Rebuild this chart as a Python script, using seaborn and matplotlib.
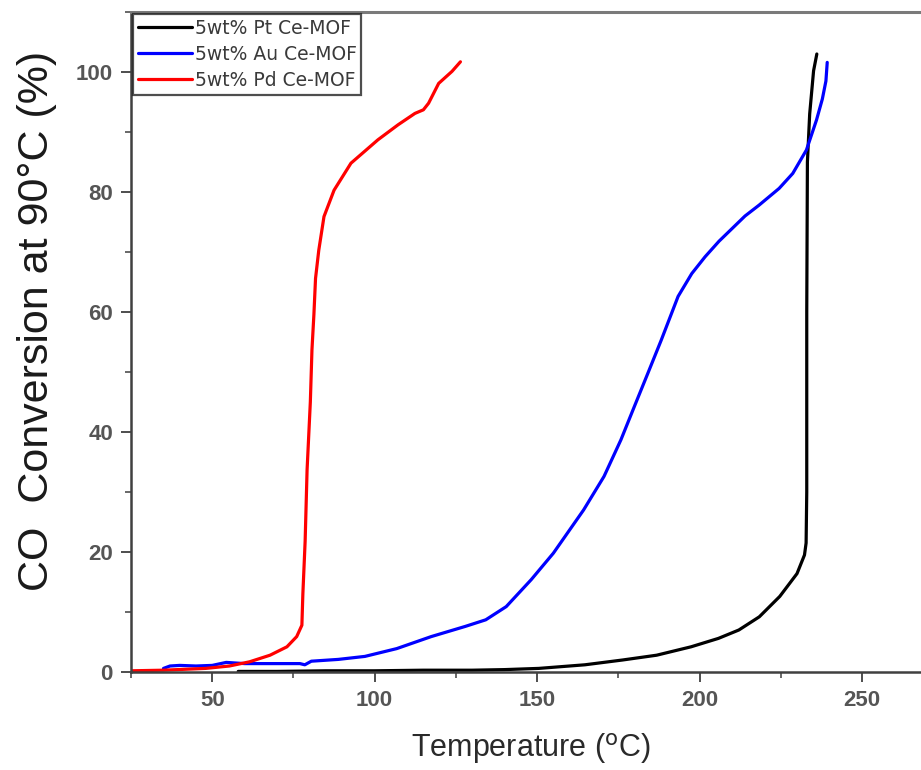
import matplotlib
matplotlib.use("Agg")
import matplotlib.pyplot as plt
from matplotlib.ticker import MultipleLocator
import seaborn as sns
import pandas as pd

# CO light-off curves (temperature in degC, conversion in %)
pt_temp = [58, 70, 85, 100, 115, 130, 140, 150.5, 164.7, 176.3, 186.8, 197.4, 205.8,
           212.1, 218.4, 224.7, 230.0, 232.3, 232.8, 233.0, 233.0, 233.2, 233.9, 234.4,
           235.1, 236.1]
pt_conv = [0.1, 0.1, 0.2, 0.2, 0.3, 0.3, 0.4, 0.6, 1.2, 2.0, 2.8, 4.2, 5.6,
           7.0, 9.2, 12.6, 16.4, 19.5, 21.5, 30.0, 60.0, 85.0, 93.0, 96.0,
           100.2, 103.0]

au_temp = [35, 37, 40, 45, 50, 54.3, 60, 70, 77, 78.5, 80.5, 88.8, 97, 106.8, 117.4, 127.9,
           134.2, 140.5, 148.2, 155, 164.3, 170.6, 175.8, 179.9, 184.1, 188.2, 193.4,
           197.6, 201.7, 206, 210, 214, 218.3, 224.5, 228.7, 232.9, 236, 237.8, 238.9, 239.3]
au_conv = [0.6, 1.0, 1.1, 1.0, 1.1, 1.6, 1.4, 1.4, 1.4, 1.2, 1.8, 2.1, 2.6, 3.9, 5.9, 7.6,
           8.7, 10.9, 15.4, 19.8, 27.0, 32.6, 38.7, 44.2, 49.8, 55.3, 62.6,
           66.4, 69.2, 71.8, 73.9, 76.0, 77.8, 80.6, 83.1, 87.0, 92.0, 95.5, 98.5, 101.6]

pd_temp = [25, 35, 48, 55.3, 61.5, 67.8, 73, 76, 77.6, 77.9, 78.6, 79.2, 80.2, 80.7, 81.3,
           81.8, 82.8, 84.4, 87.5, 92.7, 101, 107.2, 112.4, 115, 116.6, 119.7, 123.8, 126.4]
pd_conv = [0.2, 0.3, 0.6, 1.0, 1.7, 2.8, 4.2, 5.9, 7.8, 13.0, 21.8, 33.7, 45.0, 53.7, 59.6,
           65.6, 70.3, 75.9, 80.3, 84.8, 88.7, 91.2, 93.1, 93.7, 94.8, 98.1, 100.1, 101.7]

labels = ["5wt% Pt Ce-MOF", "5wt% Au Ce-MOF", "5wt% Pd Ce-MOF"]
colors = ["#000000", "#0000ff", "#ff0000"]

frames = []
for lab, t, c in zip(labels, [pt_temp, au_temp, pd_temp], [pt_conv, au_conv, pd_conv]):
    frames.append(pd.DataFrame({"T": t, "X": c, "sample": lab}))
data = pd.concat(frames, ignore_index=True)

sns.set_theme(style="ticks")
plt.rcParams["font.family"] = ["Liberation Sans", "DejaVu Sans"]

fig = plt.figure(figsize=(9.21, 7.70), dpi=100)
ax = fig.add_axes([131 / 921, 98 / 770, 1 - 131 / 921 + 0.01, (672 - 12) / 770])

sns.lineplot(data=data, x="T", y="X", hue="sample", hue_order=labels,
             palette=dict(zip(labels, colors)), sort=False, estimator=None,
             units="sample", linewidth=2.3, ax=ax)

ax.set_xlim(25, 271)
ax.set_ylim(0, 110)
ax.xaxis.set_major_locator(MultipleLocator(50))
ax.xaxis.set_minor_locator(MultipleLocator(25))
ax.yaxis.set_major_locator(MultipleLocator(20))
ax.yaxis.set_minor_locator(MultipleLocator(10))

for side in ["left", "bottom"]:
    ax.spines[side].set_color("#404040")
    ax.spines[side].set_linewidth(1.8)
ax.spines["top"].set_color("#7a7a7a")
ax.spines["top"].set_linewidth(2.2)
ax.spines["right"].set_visible(False)

ax.tick_params(which="major", direction="out", length=7, width=1.3, color="#404040",
               labelsize=16, labelcolor="#555555", pad=6)
ax.tick_params(which="minor", direction="out", length=4.5, width=1.1, color="#404040")
for lbl in ax.get_xticklabels() + ax.get_yticklabels():
    lbl.set_fontweight("bold")

ax.set_xlabel(r"Temperature ($^{\rm o}$C)", fontsize=22, color="#2a2a2a", labelpad=14)
ax.set_ylabel("CO  Conversion at 90°C (%)", fontsize=31, color="#1a1a1a")
ax.yaxis.set_label_coords(-0.093, 0.532)

leg = ax.legend(loc="upper left", bbox_to_anchor=(0.0, 1.0), borderaxespad=0.1,
                handlelength=2.9, handletextpad=0.15, labelspacing=0.38,
                frameon=True, fancybox=False, borderpad=0.25,
                prop={"family": ["DejaVu Sans"], "size": 13.5})
leg.get_frame().set_edgecolor("#222222")
leg.get_frame().set_linewidth(1.6)
for txt in leg.get_texts():
    txt.set_color("#3a3a3a")
for h in leg.get_lines():
    h.set_linewidth(2.3)

fig.savefig("out.png", dpi=100)
